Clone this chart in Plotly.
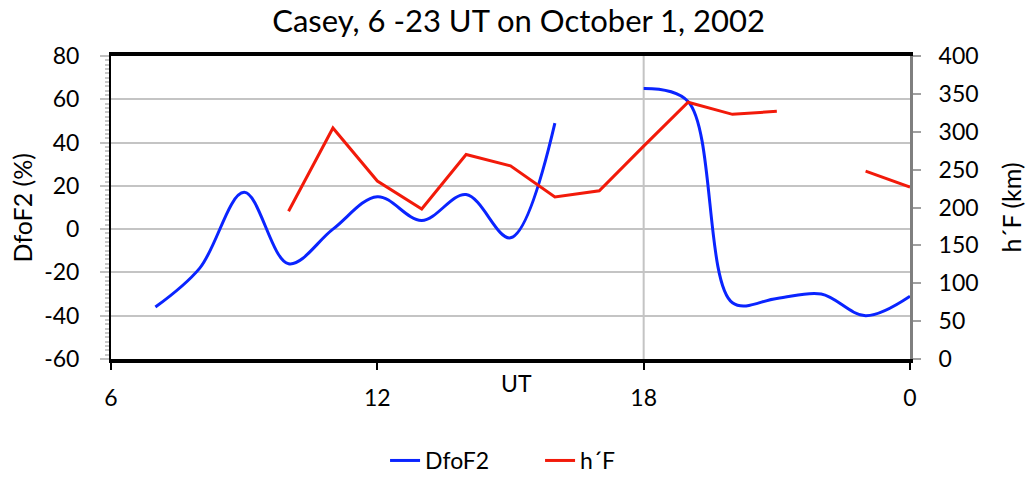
import plotly.graph_objects as go

hours = [7, 8, 9, 10, 11, 12, 13, 14, 15, 16, 17, 18, 19, 20, 21, 22, 23, 24]
dfof2 = [-36, -18, 17, -16, 0, 15, 4, 16, -4, 49, None, 65, 59, -34, -32, -30, -40, -31]
hf_hours = [10, 11, 12, 13, 14, 15, 16, 17, 18, 19, 20, 21, 22, 23, 24]
hf = [195, 305, 235, 198, 270, 255, 214, 222, 281, 339, 323, 327, None, 248, 227]

x_tickvals = [6, 12, 18, 24]
x_ticktext = ["6", "12", "18", "0"]
y1_tickvals = [-60, -40, -20, 0, 20, 40, 60, 80]
y1_ticktext = ["-60", "-40", "-20", "0", "20", "40", "60", "80"]
y2_tickvals = [0, 50, 100, 150, 200, 250, 300, 350, 400]
y2_ticktext = ["0", "50", "100", "150", "200", "250", "300", "350", "400"]

FONT = "Lato"

fig = go.Figure()
fig.add_trace(go.Scatter(x=hours, y=dfof2, mode="lines", name="DfoF2",
                         line=dict(color="#0a24ff", width=3, shape="spline", smoothing=1.0),
                         connectgaps=False))
fig.add_trace(go.Scatter(x=hf_hours, y=hf, mode="lines", name="h\u00b4F", yaxis="y2",
                         line=dict(color="#f21a0a", width=3), connectgaps=False))

fig.add_shape(type="line", xref="x", yref="paper", x0=18, x1=18, y0=0, y1=1,
              line=dict(color="#c4c4c4", width=2), layer="below")

fig.update_layout(
    width=1027, height=479,
    margin=dict(l=111, r=117, t=56, b=120, autoexpand=False),
    paper_bgcolor="white", plot_bgcolor="white",
    font=dict(family=FONT, size=23, color="black"),
    title=dict(text="Casey, 6 -23 UT on October 1, 2002", x=0.505, xanchor="center",
               y=0.956, yanchor="middle", font=dict(size=31, family=FONT)),
    xaxis=dict(range=[6, 24], tickvals=x_tickvals, ticktext=x_ticktext, automargin=False,
               showline=True, linecolor="black", linewidth=4, mirror=True,
               ticks="outside", ticklen=7, tickcolor="black", tickwidth=2,
               ticklabelstandoff=8,
               showgrid=False, zeroline=False, tickfont=dict(size=23)),
    yaxis=dict(range=[-60, 80], tickvals=y1_tickvals, ticktext=y1_ticktext, automargin=False,
               showline=True, linecolor="black", linewidth=2,
               ticks="outside", ticklen=9, tickcolor="#c0c0c0", tickwidth=2,
               ticklabelstandoff=16,
               minor=dict(dtick=2, ticks="outside", ticklen=4, tickcolor="#c8c8c8", tickwidth=2, showgrid=False),
               showgrid=True, gridcolor="#c4c4c4", gridwidth=2, zeroline=False,
               tickfont=dict(size=23)),
    yaxis2=dict(range=[0, 400], tickvals=y2_tickvals, ticktext=y2_ticktext, automargin=False,
                overlaying="y", side="right",
                showline=True, linecolor="#7f7f7f", linewidth=3,
                ticks="outside", ticklen=8, tickcolor="#a0a0a0", tickwidth=2,
                ticklabelstandoff=13,
                showgrid=False, zeroline=False, tickfont=dict(size=23)),
    legend=dict(orientation="h", x=0.343, xanchor="left", y=-0.335, yanchor="middle",
                font=dict(size=23), bgcolor="rgba(0,0,0,0)", entrywidth=110),
    showlegend=True,
)

fig.add_annotation(text="UT", xref="paper", yref="paper", x=0.507, y=-0.079,
                   showarrow=False, font=dict(size=23, family=FONT), yanchor="middle")
fig.add_annotation(text="DfoF2 (%)", xref="paper", yref="paper", x=-0.1114, y=0.5,
                   textangle=-90, showarrow=False, font=dict(size=25, family=FONT),
                   xanchor="center", yanchor="middle")
fig.add_annotation(text="h\u00b4F (km)", xref="paper", yref="paper", x=1.1264, y=0.5,
                   textangle=-90, showarrow=False, font=dict(size=25, family=FONT),
                   xanchor="center", yanchor="middle")

# remove the default 8px page margin so the figure fills the window exactly
fig.write_html("out.html", config={"displayModeBar": False},
               post_script="document.body.style.margin='0px';")
